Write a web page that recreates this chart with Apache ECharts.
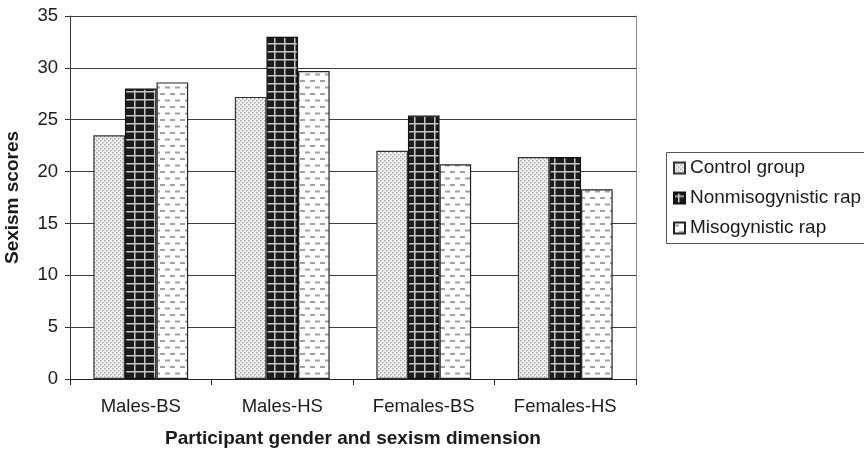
<!DOCTYPE html>
<html>
<head>
<meta charset="utf-8">
<script src="https://cdn.jsdelivr.net/npm/echarts@6/dist/echarts.min.js"></script>
<style>
html,body{margin:0;padding:0;background:#fff;}
#chart{width:864px;height:451px;}
</style>
</head>
<body>
<div id="chart"></div>
<script>
// ---- data ----
var categories = ['Males-BS', 'Males-HS', 'Females-BS', 'Females-HS'];
var seriesNames = ['Control group', 'Nonmisogynistic rap', 'Misogynistic rap'];
var controlGroup = [23.5, 27.2, 22.0, 21.4];
var nonmisogynisticRap = [28.0, 33.0, 25.4, 21.4];
var misogynisticRap = [28.6, 29.7, 20.7, 18.3];
var yTicks = [0, 5, 10, 15, 20, 25, 30, 35];

// ---- patterns ----
function makeCanvas(w, h, draw) {
  var c = document.createElement('canvas');
  c.width = w; c.height = h;
  draw(c.getContext('2d'));
  return c;
}
var dotPattern = makeCanvas(4, 4, function (g) {
  g.fillStyle = '#f0f0f0'; g.fillRect(0, 0, 4, 4);
  g.fillStyle = '#ababab';
  g.fillRect(0, 0, 1.5, 1.5);
  g.fillRect(2, 2, 1.5, 1.5);
});
var plaidPattern = makeCanvas(10, 8, function (g) {
  g.fillStyle = '#1c1c1c'; g.fillRect(0, 0, 10, 8);
  g.fillStyle = '#c8c8c8';
  g.fillRect(4, 0, 1.5, 8);
  g.fillRect(0, 3, 10, 1.5);
});
var dashPattern = makeCanvas(10, 13, function (g) {
  g.fillStyle = '#ffffff'; g.fillRect(0, 0, 10, 13);
  g.fillStyle = '#a0a0a0';
  g.fillRect(0, 2, 5, 2);
  g.fillRect(5, 8.5, 5, 2);
});

var FONT = "'Liberation Sans', Arial, sans-serif";
var chart = echarts.init(document.getElementById('chart'), null, {renderer: 'canvas'});

function barSeries(name, data, pattern, border) {
  return {
    name: name,
    type: 'bar',
    data: data,
    barGap: '0%',
    barCategoryGap: '33%',
    itemStyle: {
      color: {image: pattern, repeat: 'repeat'},
      borderColor: border,
      borderWidth: 1.2
    },
    emphasis: {disabled: true},
    animation: false
  };
}

chart.setOption({
  backgroundColor: '#ffffff',
  animation: false,
  textStyle: {fontFamily: FONT},
  grid: {left: 70, right: 228, top: 16, bottom: 72, containLabel: false, outerBoundsMode: 'none'},
  legend: {
    orient: 'vertical',
    left: 673,
    top: 158,
    padding: 0,
    icon: 'rect',
    itemWidth: 11,
    itemHeight: 11,
    itemGap: 10,
    selectedMode: false,
    data: seriesNames,
    textStyle: {fontFamily: FONT, fontSize: 19, color: '#1a1a1a', lineHeight: 20}
  },
  graphic: [{
    type: 'rect',
    shape: {x: 666.5, y: 152.5, width: 220, height: 91},
    style: {fill: 'none', stroke: '#555', lineWidth: 1},
    silent: true
  }],
  xAxis: {
    type: 'category',
    data: categories,
    name: 'Participant gender and sexism dimension',
    nameLocation: 'middle',
    nameGap: 50,
    nameTextStyle: {fontFamily: FONT, fontSize: 19, fontWeight: 'bold', color: '#1a1a1a'},
    axisLine: {lineStyle: {color: '#222', width: 1}},
    axisTick: {show: true, length: 6, lineStyle: {color: '#222'}},
    axisLabel: {fontFamily: FONT, fontSize: 18.5, color: '#1a1a1a', margin: 18},
    splitLine: {show: false}
  },
  yAxis: [{
    type: 'value',
    min: yTicks[0],
    max: yTicks[yTicks.length - 1],
    interval: 5,
    name: 'Sexism scores',
    nameLocation: 'middle',
    nameGap: 48,
    nameTextStyle: {fontFamily: FONT, fontSize: 19, fontWeight: 'bold', color: '#1a1a1a'},
    axisLine: {show: true, lineStyle: {color: '#333', width: 1}},
    axisTick: {show: true, length: 5, lineStyle: {color: '#333'}},
    axisLabel: {fontFamily: FONT, fontSize: 18.5, color: '#1a1a1a', margin: 12},
    splitLine: {show: true, lineStyle: {color: '#3a3a3a', width: 1}}
  }, {
    type: 'value',
    position: 'right',
    min: 0, max: 35, interval: 5,
    axisLine: {show: true, lineStyle: {color: '#888', width: 1}},
    axisTick: {show: false},
    axisLabel: {show: false},
    splitLine: {show: false}
  }],
  series: [
    barSeries(seriesNames[0], controlGroup, dotPattern, '#333'),
    barSeries(seriesNames[1], nonmisogynisticRap, plaidPattern, '#111'),
    barSeries(seriesNames[2], misogynisticRap, dashPattern, '#222')
  ]
});
</script>
</body>
</html>
